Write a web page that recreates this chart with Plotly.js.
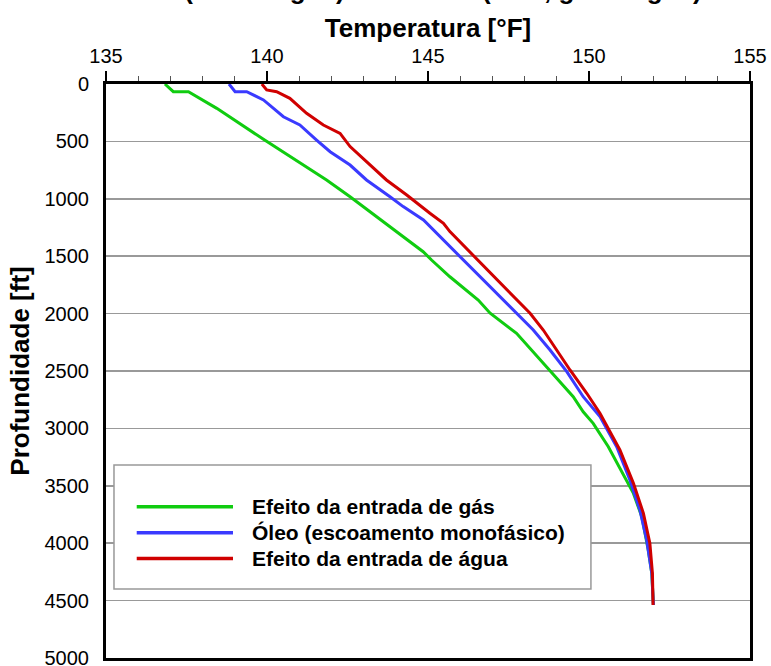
<!DOCTYPE html>
<html>
<head>
<meta charset="utf-8">
<script src="https://cdn.plot.ly/plotly-3.0.1.min.js"></script>
<style>
  html, body { margin: 0; padding: 0; background: #ffffff; }
  #chart { width: 771px; height: 666px; }
</style>
</head>
<body>
<div id="chart"></div>
<script>
// Series names
const seriesNames = [
  "Efeito da entrada de gás",
  "Óleo (escoamento monofásico)",
  "Efeito da entrada de água"
];

// Gas-entry effect: temperature [°F] vs depth [ft]
const gasTemp  = [136.83, 137.09, 137.56, 138.44, 139.89, 141.85, 142.58, 143.82, 144.85, 145.11, 145.68, 146.56, 146.93, 147.75, 148.69, 149.51, 149.82, 150.13, 150.60, 151.06, 151.38, 151.64, 151.79, 151.84, 151.95, 152.00];
const gasDepth = [0, 67, 67, 212, 482, 836, 982, 1243, 1461, 1533, 1679, 1882, 1997, 2172, 2462, 2724, 2855, 2956, 3160, 3392, 3566, 3770, 3972, 4059, 4262, 4538];

// Oil (single-phase flow)
const oilTemp  = [138.82, 139.01, 139.37, 139.89, 140.51, 141.02, 141.54, 141.96, 142.58, 143.09, 143.82, 144.23, 144.86, 145.27, 145.68, 147.34, 147.75, 148.27, 148.79, 149.31, 149.82, 150.34, 150.86, 151.27, 151.58, 151.79, 151.95, 152.00];
const oilDepth = [0, 67, 67, 139, 285, 357, 488, 590, 706, 836, 982, 1068, 1185, 1301, 1417, 1882, 1997, 2143, 2317, 2506, 2724, 2897, 3160, 3450, 3711, 3972, 4262, 4538];

// Water-entry effect
const waterTemp  = [139.84, 139.99, 140.30, 140.71, 141.23, 141.75, 142.27, 142.58, 143.71, 144.34, 145.06, 145.48, 145.68, 147.75, 148.17, 148.58, 149.00, 149.41, 149.93, 150.34, 150.96, 151.38, 151.69, 151.89, 151.97, 151.99];
const waterDepth = [0, 52, 67, 125, 255, 357, 430, 545, 836, 967, 1126, 1214, 1286, 1882, 1997, 2143, 2317, 2491, 2694, 2868, 3188, 3479, 3740, 4001, 4262, 4538];

// Axis ticks
const tempTicks  = [135, 140, 145, 150, 155];
const depthTicks = [0, 500, 1000, 1500, 2000, 2500, 3000, 3500, 4000, 4500, 5000];

const colors = ["#10cc10", "#3a3aff", "#d00000"];
const FONT = "Arial, 'Liberation Sans', sans-serif";

const traces = [
  {x: gasTemp, y: gasDepth, name: seriesNames[0]},
  {x: oilTemp, y: oilDepth, name: seriesNames[1]},
  {x: waterTemp, y: waterDepth, name: seriesNames[2]}
].map((t, i) => Object.assign(t, {
  type: "scatter", mode: "lines",
  line: {color: colors[i], width: 3},
  showlegend: false, hoverinfo: "skip"
}));

// Manual legend (long line samples)
const legTop = 0.2636, legStep = 0.0452;
const shapes = [{
  type: "rect", xref: "paper", yref: "paper",
  x0: 0.0124, x1: 0.753, y0: 0.1202, y1: 0.3362,
  line: {color: "#999999", width: 1.5}, fillcolor: "#ffffff", layer: "above"
}];
const annotations = [];
seriesNames.forEach((n, i) => {
  const yy = legTop - i * legStep;
  shapes.push({
    type: "line", xref: "paper", yref: "paper",
    x0: 0.0477, x1: 0.1972, y0: yy, y1: yy,
    line: {color: colors[i], width: 3.5}, layer: "above"
  });
  annotations.push({
    xref: "paper", yref: "paper", x: 0.2236, y: yy,
    xanchor: "left", yanchor: "middle", showarrow: false,
    text: "<b>" + n + "</b>",
    font: {family: FONT, size: 21, color: "#000"}
  });
});
// Partially visible main title (cut off at the top of the picture, as in the source)
annotations.push({
  xref: "paper", yref: "paper", x: -0.05, y: 1.135,
  xanchor: "left", yanchor: "bottom", showarrow: false,
  text: "<b>Bifásico (óleo e água) e trifásico (óleo, gás e água)</b>",
  font: {family: FONT, size: 26, color: "#000"}
});

const layout = {
  width: 771, height: 666,
  margin: {l: 106, r: 21, t: 84, b: 8},
  paper_bgcolor: "#ffffff", plot_bgcolor: "#ffffff",
  font: {family: FONT, color: "#000"},
  showlegend: false,
  xaxis: {
    side: "top", range: [135, 155],
    tickvals: tempTicks, ticktext: tempTicks.map(String),
    ticks: "outside", ticklen: 10, tickwidth: 2.5, tickcolor: "#000",
    minor: {dtick: 1, ticks: "outside", ticklen: 5, tickwidth: 1, tickcolor: "#555", showgrid: false},
    showline: true, linecolor: "#000", linewidth: 3, mirror: true,
    showgrid: false, zeroline: false,
    tickfont: {family: FONT, size: 20, color: "#000"},
    title: {text: "<b>Temperatura [°F]</b>", font: {family: FONT, size: 26, color: "#000"}, standoff: 0}
  },
  yaxis: {
    range: [5000, 0],
    tickvals: depthTicks, ticktext: depthTicks.map(String),
    ticks: "", ticklabelstandoff: 10, ticklabeloverflow: "allow",
    showline: true, linecolor: "#000", linewidth: 3, mirror: true,
    showgrid: true, gridcolor: "#999999", gridwidth: 1.5, zeroline: false,
    tickfont: {family: FONT, size: 20, color: "#000"},
    title: {text: "<b>Profundidade [ft]</b>", font: {family: FONT, size: 26, color: "#000"}, standoff: 8}
  },
  shapes: shapes,
  annotations: annotations
};

Plotly.newPlot("chart", traces, layout, {staticPlot: true, displayModeBar: false});
</script>
</body>
</html>
